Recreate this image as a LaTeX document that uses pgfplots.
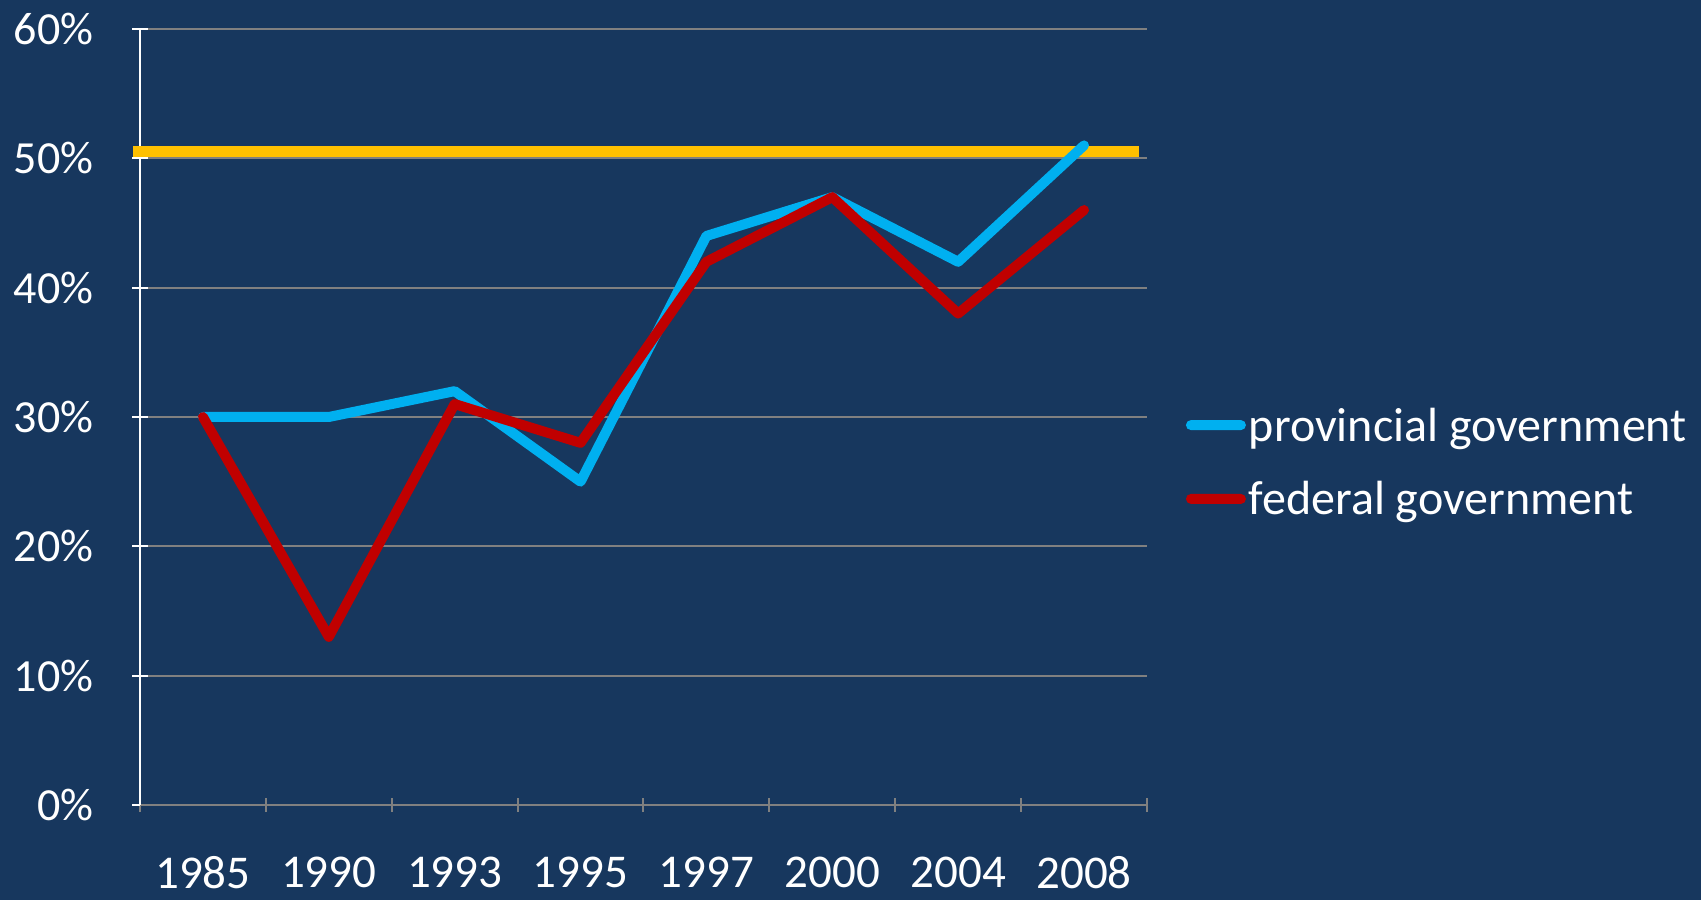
\documentclass[border=0pt]{standalone}
\usepackage{fontspec}
\setmainfont{Carlito}
\usepackage{pgfplots}
\pgfplotsset{compat=1.18}
\definecolor{bgcol}{HTML}{17375E}
\definecolor{provcol}{HTML}{00B0F0}
\definecolor{fedcol}{HTML}{C00000}
\definecolor{yelcol}{HTML}{FFC000}
\definecolor{gridcol}{HTML}{808080}
\newcommand\yfont{\fontsize{46pt}{55pt}\selectfont}
\newcommand\xfont{\fontsize{47pt}{56pt}\selectfont}
\newcommand\legfont{\fontsize{48pt}{58pt}\selectfont}
\begin{document}
\begin{tikzpicture}
\fill[bgcol] (0,0) rectangle (1701pt,900pt);
\useasboundingbox (0,0) rectangle (1701pt,900pt);
\begin{axis}[
  at={(140pt,95pt)}, anchor=south west,
  width=1007pt, height=776pt, scale only axis,
  xmin=-0.5, xmax=7.5, ymin=0, ymax=60,
  xtick={0,...,7},
  xticklabels={1985,1990,1993,1995,1997,2000,2004,2008},
  minor xtick={-0.5,0.5,...,7.5},
  ytick={0,10,...,60},
  yticklabel={\pgfmathprintnumber{\tick}\%},
  /pgf/number format/assume math mode=true,
  tick align=outside,
  major tick length=15pt, minor tick length=14pt,
  xtick style={draw=none},
  minor x tick style={draw=gridcol, line width=2pt},
  ytick style={draw=white, line width=2pt},
  axis x line=bottom, axis y line=left,
  x axis line style={-, draw=gridcol, line width=2pt},
  y axis line style={-, draw=white, line width=2.5pt},
  ymajorgrids, grid style={draw=gridcol, line width=2pt},
  ticklabel style={text=white, inner sep=0pt},
  yticklabel style={font=\yfont, anchor=east, xshift=-39pt},
  xticklabel style={font=\xfont, anchor=north, yshift=-44pt},
  clip=false,
  legend style={draw=none, fill=none, font=\legfont, text=white,
    at={(1.0387,0.442)}, anchor=west, inner sep=0pt, outer sep=0pt,
    nodes={inner sep=0pt, outer sep=0pt}, column sep=3pt, row sep=39pt},
  legend cell align=left,
]
\addplot[yelcol, line width=11pt, line cap=butt, forget plot] coordinates {(-0.556,50.5) (7.435,50.5)};
\addplot[provcol, line width=10pt, line join=round, line cap=round,
  legend image code/.code={\fill[provcol, draw=none, rounded corners=5pt] (0pt,-5pt) rectangle (60pt,5pt);}] coordinates {
(0,30) (1,30) (2,32) (3,25) (4,44) (5,47) (6,42) (7,51)};
\addlegendentry{provincial government}
\addplot[fedcol, line width=10pt, line join=round, line cap=round,
  legend image code/.code={\fill[fedcol, draw=none, rounded corners=5pt] (0pt,-5pt) rectangle (60pt,5pt);}] coordinates {
(0,30) (1,13) (2,31) (3,28) (4,42) (5,47) (6,38) (7,46)};
\addlegendentry{federal government}
\end{axis}
\end{tikzpicture}
\end{document}
